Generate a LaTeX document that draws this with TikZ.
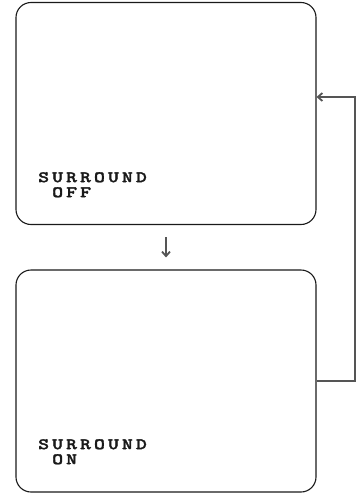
\documentclass[tikz,border=0pt]{standalone}
\usepackage{fontspec}
\usetikzlibrary{arrows.meta,positioning}
\newfontfamily\screenfont[LetterSpace=19,FakeBold=2,FakeStretch=1.3]{lmmonolt10-bold.otf}
\definecolor{ink}{HTML}{1A1A1A}
\definecolor{wire}{HTML}{555555}

\begin{document}
\begin{tikzpicture}[
  x=1pt,y=-1pt,
  screen/.style={draw=ink,rounded corners=15pt,line width=1.1pt,minimum width=300pt,minimum height=222pt,inner sep=0pt},
  osd/.style={font=\screenfont\fontsize{16}{15}\selectfont,align=left,anchor=north west,inner sep=0pt,text=ink},
  flow/.style={-{Straight Barb[length=4.5pt,width=8pt]},line width=1.8pt,draw=wire}
]
\useasboundingbox (0,0) rectangle (358,493);
\node[screen] (off) at (166,113.5) {};
\node[screen] (on) at (166,381) {};

\node[osd] (offtext) at (38,172) {SURROUND\\\hspace*{14pt}OFF};
\node[osd] (ontext) at (38,439) {SURROUND\\\hspace*{14pt}ON};

\coordinate (turn) at (355,97);
\draw[flow] ([yshift=-12pt]off.south) -- ([yshift=12pt]on.north);
\draw[flow] (on.east) -| (turn) -- (turn -| off.east);
\end{tikzpicture}
\end{document}
